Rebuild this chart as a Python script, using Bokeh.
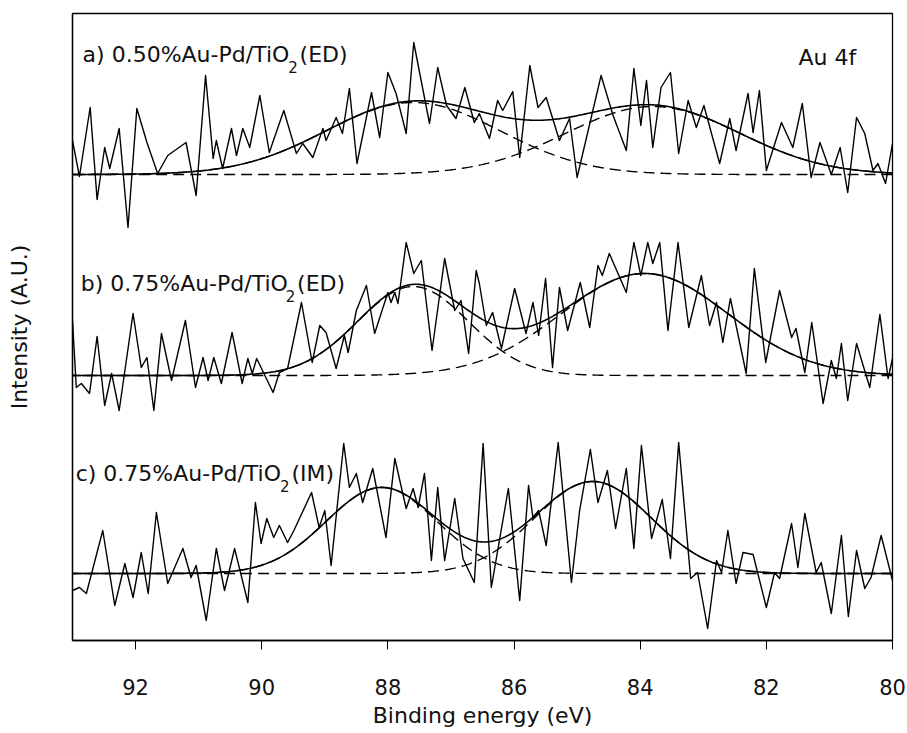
import numpy as np
from bokeh.plotting import figure
from bokeh.models import Range1d, FixedTicker, Label
from bokeh.embed import file_html
from bokeh.resources import INLINE

FONT = "DejaVu Sans"

# ---- Au 4f raw spectra: binding energy (eV) and intensity above each baseline (a.u.)
be_a = [93.00, 92.89, 92.72, 92.61, 92.49, 92.41, 92.26, 92.12, 91.98, 91.82,
        91.65, 91.49, 91.20, 91.04, 90.89, 90.77, 90.72, 90.62, 90.48, 90.40,
        90.30, 90.19, 90.03, 89.88, 89.65, 89.45, 89.35, 89.19, 89.03, 88.98,
        88.82, 88.72, 88.61, 88.49, 88.26, 88.13, 88.00, 87.87, 87.71, 87.59,
        87.34, 87.21, 87.07, 86.92, 86.78, 86.63, 86.55, 86.39, 86.26, 86.18,
        86.02, 85.91, 85.75, 85.62, 85.49, 85.28, 85.12, 85.00, 84.62, 84.43,
        84.22, 84.10, 83.99, 83.90, 83.80, 83.67, 83.52, 83.39, 83.24, 83.11,
        82.99, 82.74, 82.58, 82.48, 82.29, 82.21, 82.11, 82.00, 81.76, 81.58,
        81.43, 81.29, 81.15, 80.97, 80.83, 80.71, 80.57, 80.44, 80.31, 80.23,
        80.11, 80.00]
int_a = [34, -2, 67, -25, 27, 6, 46, -53, 66, 32,
         1, 19, 32, -21, 99, 16, 34, 6, 46, 19,
         46, 27, 79, 22, 64, 21, 31, 17, 46, 34,
         57, 41, 86, 11, 82, 37, 102, 81, 41, 132,
         51, 107, 69, 56, 87, 52, 61, 36, 74, 64,
         83, 17, 109, 67, 77, 34, 56, -3, 99, 59,
         24, 106, 49, 94, 27, 87, 102, 21, 74, 47,
         69, 11, 56, 24, 81, 42, 84, 4, 52, 27,
         71, -3, 32, 0, 27, -18, 57, 41, 4, 11,
         -9, 31]

be_b = [93.00, 92.94, 92.86, 92.73, 92.61, 92.49, 92.38, 92.26, 92.04, 91.91,
        91.82, 91.71, 91.59, 91.43, 91.21, 91.05, 90.93, 90.85, 90.76, 90.64,
        90.47, 90.31, 90.22, 90.15, 90.08, 89.82, 89.72, 89.59, 89.37, 89.20,
        89.08, 88.98, 88.82, 88.69, 88.63, 88.50, 88.34, 88.21, 88.00, 87.95,
        87.89, 87.84, 87.71, 87.59, 87.47, 87.30, 87.10, 86.94, 86.84, 86.72,
        86.60, 86.55, 86.44, 86.34, 86.20, 85.99, 85.81, 85.70, 85.61, 85.50,
        85.39, 85.28, 85.15, 84.95, 84.80, 84.67, 84.60, 84.49, 84.22, 84.10,
        83.99, 83.88, 83.80, 83.69, 83.56, 83.40, 83.23, 83.03, 82.90, 82.79,
        82.69, 82.57, 82.32, 82.19, 82.01, 81.79, 81.60, 81.53, 81.39, 81.28,
        81.10, 80.97, 80.89, 80.81, 80.71, 80.57, 80.36, 80.20, 80.07, 80.00]
int_b = [55, -12, -8, -18, 39, -30, 2, -35, 62, 8,
         18, -35, 42, -5, 55, -12, 18, -5, 18, -8,
         43, -8, 17, 2, 17, -17, 3, 7, 73, 13,
         50, 43, 7, 40, 23, 65, 90, 42, 83, 73,
         83, 72, 133, 102, 115, 25, 117, 65, 75, 22,
         105, 92, 50, 63, 27, 87, 42, 73, 40, 97,
         8, 88, 45, 93, 48, 110, 100, 122, 83, 133,
         100, 133, 112, 133, 45, 133, 48, 100, 50, 73,
         33, 77, 2, 107, 13, 85, 38, 47, 3, 53,
         -28, 15, -3, 32, -25, 32, -12, 61, -3, 17]

be_c = [93.00, 92.89, 92.78, 92.52, 92.33, 92.17, 92.04, 91.91, 91.80, 91.67,
        91.49, 91.25, 91.12, 91.04, 90.88, 90.72, 90.59, 90.43, 90.22, 90.10,
        90.01, 89.92, 89.81, 89.72, 89.59, 89.49, 89.21, 89.09, 89.00, 88.90,
        88.70, 88.61, 88.50, 88.40, 88.24, 88.03, 87.89, 87.71, 87.60, 87.52,
        87.42, 87.31, 87.21, 87.10, 86.94, 86.81, 86.63, 86.49, 86.36, 86.09,
        85.91, 85.77, 85.70, 85.61, 85.49, 85.30, 85.09, 84.96, 84.79, 84.67,
        84.52, 84.39, 84.22, 84.10, 83.98, 83.82, 83.65, 83.52, 83.39, 83.20,
        83.09, 82.93, 82.79, 82.71, 82.61, 82.48, 82.37, 82.21, 82.00, 81.87,
        81.79, 81.60, 81.50, 81.39, 81.21, 81.13, 80.97, 80.81, 80.70, 80.57,
        80.44, 80.34, 80.18, 80.00]
int_c = [-17, -14, -20, 43, -32, 10, -24, 21, -20, 61,
         -10, 25, -4, 8, -47, 25, -17, 25, -29, 71,
         30, 55, 36, 48, 31, 43, 81, 46, 63, 8,
         130, 86, 100, 71, 105, 36, 115, 65, 85, 66,
         100, 13, 86, 13, 75, 15, -9, 130, -14, 85,
         -27, 88, 56, 63, 28, 131, -9, 63, 124, 71,
         103, 45, 105, 25, 128, 35, 74, 15, 131, -5,
         1, -55, 13, 1, 43, -10, 21, 19, -34, 1,
         -5, 50, 6, 60, 1, 11, -40, 38, -43, 23,
         -15, -4, 38, -7]

# ---- Gaussian fit components (Au 4f7/2 and Au 4f5/2): centre (eV), height, FWHM (eV)
fit_a_centre = [87.60, 83.80]
fit_a_height = [72, 68]
fit_a_fwhm = [3.25, 3.25]

fit_b_centre = [87.60, 83.93]
fit_b_height = [89, 102]
fit_b_fwhm = [2.07, 3.11]

fit_c_centre = [88.10, 84.75]
fit_c_height = [86, 92]
fit_c_fwhm = [2.07, 2.17]

# vertical stacking offsets of the three spectra
offset_a = 466
offset_b = 265
offset_c = 67

# sample names, split around the TiO2 subscript
label_head = ["a) 0.50%Au-Pd/TiO", "b) 0.75%Au-Pd/TiO", "c) 0.75%Au-Pd/TiO"]
label_sub = ["2", "2", "2"]
label_tail = ["(ED)", "(ED)", "(IM)"]
x_ticks = [92, 90, 88, 86, 84, 82, 80]
x_title = "Binding energy (eV)"
y_title = "Intensity (A.U.)"

p = figure(width=907, height=733, output_backend="svg", toolbar_location=None,
           x_range=Range1d(93, 80), y_range=Range1d(0, 627),
           min_border_left=72, min_border_right=15, min_border_top=13,
           min_border_bottom=93)
p.background_fill_color = "white"
p.border_fill_color = "white"
p.outline_line_color = "black"
p.outline_line_width = 1.3
p.xgrid.visible = False
p.ygrid.visible = False

grid = np.linspace(80, 93, 600)


def gauss(centre, height, fwhm):
    s = fwhm / 2.3548
    return height * np.exp(-0.5 * ((grid - centre) / s) ** 2)


spectra = [
    (be_a, int_a, offset_a, fit_a_centre, fit_a_height, fit_a_fwhm),
    (be_b, int_b, offset_b, fit_b_centre, fit_b_height, fit_b_fwhm),
    (be_c, int_c, offset_c, fit_c_centre, fit_c_height, fit_c_fwhm),
]

for be, inten, off, cen, hgt, fw in spectra:
    y = np.array(inten, dtype=float) + off
    p.line(be, y, line_color="black", line_width=1.4, line_join="round")
    comps = [gauss(c, h, w) for c, h, w in zip(cen, hgt, fw)]
    for comp in comps:
        p.line(grid, comp + off, line_color="black", line_width=1.4,
               line_dash="11 6")
    p.line(grid, sum(comps) + off, line_color="black", line_width=1.6)

# bottom axis: outward ticks only
xa = p.xaxis[0]
xa.ticker = FixedTicker(ticks=x_ticks)
xa.minor_tick_line_color = None
xa.major_tick_in = 0
xa.major_tick_out = 9
xa.major_tick_line_color = "black"
xa.axis_line_color = "black"
xa.axis_line_width = 1.3
xa.major_label_standoff = 29
xa.major_label_text_font = FONT
xa.major_label_text_font_size = "21px"
xa.major_label_text_color = "#111111"
xa.axis_label = x_title
xa.axis_label_text_font = FONT
xa.axis_label_text_font_size = "22px"
xa.axis_label_text_font_style = "normal"
xa.axis_label_text_color = "#111111"
xa.axis_label_standoff = 5

ya = p.yaxis[0]
ya.ticker = FixedTicker(ticks=[])
ya.major_tick_out = 0
ya.major_tick_in = 0
ya.minor_tick_out = 0
ya.minor_tick_in = 0
ya.major_label_standoff = 0
ya.axis_line_color = "black"
ya.axis_line_width = 1.3
ya.axis_label = y_title
ya.axis_label_text_font = FONT
ya.axis_label_text_font_size = "22px"
ya.axis_label_text_font_style = "normal"
ya.axis_label_text_color = "#111111"
ya.axis_label_standoff = 41

# label anchors (eV, a.u.): head start, subscript start, tail start, baselines
head_x = [92.84, 92.87, 92.95]
sub_x = [89.58, 89.62, 89.71]
tail_x = [89.40, 89.44, 89.53]
head_y = [585.7, 356.7, 166.7]
sub_y = [573.4, 344.4, 154.4]

for i in range(3):
    common = dict(text_font=FONT, text_color="#111111",
                  text_baseline="alphabetic", text_align="left")
    p.add_layout(Label(x=head_x[i], y=head_y[i], text=label_head[i],
                       text_font_size="22px", **common))
    p.add_layout(Label(x=sub_x[i], y=sub_y[i], text=label_sub[i],
                       text_font_size="15px", **common))
    p.add_layout(Label(x=tail_x[i], y=head_y[i], text=label_tail[i],
                       text_font_size="22px", **common))

p.add_layout(Label(x=81.49, y=583.3, text="Au 4f", text_font=FONT,
                   text_font_size="22px", text_color="#111111",
                   text_baseline="alphabetic", text_align="left"))

open("out.html", "w").write(file_html(p, INLINE))
